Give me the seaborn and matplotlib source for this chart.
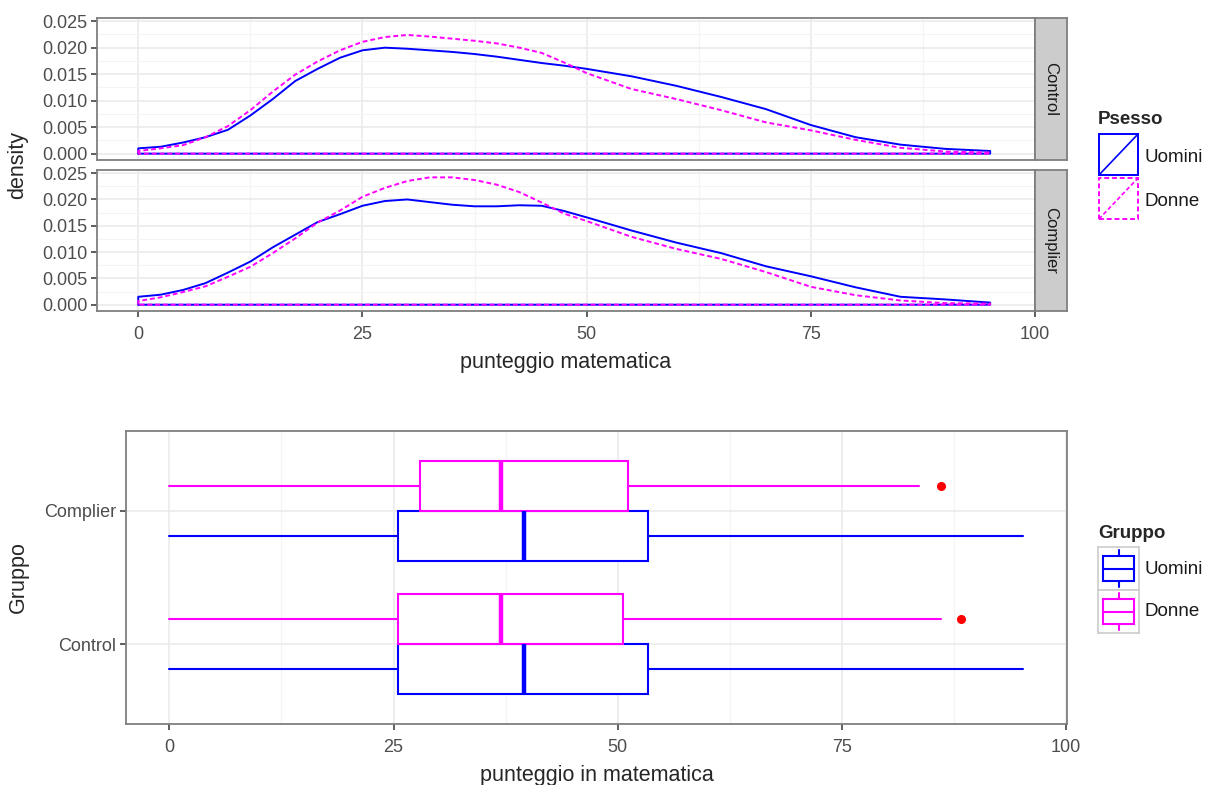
import numpy as np
import pandas as pd
import matplotlib
matplotlib.use("Agg")
import matplotlib.pyplot as plt
import seaborn as sns
from matplotlib.patches import Rectangle
from matplotlib.ticker import MultipleLocator, FormatStrFormatter

# ---------------- data ----------------
gruppi = ["Control", "Complier"]
sessi = ["Uomini", "Donne"]
colori = {"Uomini": "#0000FF", "Donne": "#FF00FF"}

x_dens = [0, 2.5, 5, 7.5, 10, 12.5, 15, 17.5, 20, 22.5, 25, 27.5, 30, 32.5, 35,
          37.5, 40, 42.5, 45, 47.5, 50, 55, 60, 65, 70, 75, 80, 85, 90, 95]

control_uomini = [0.0010, 0.0013, 0.0021, 0.0031, 0.0045, 0.0072, 0.0103, 0.0137, 0.0160,
                  0.0181, 0.0195, 0.0200, 0.0198, 0.0195, 0.0192, 0.0188, 0.0183, 0.0177,
                  0.0171, 0.0166, 0.0160, 0.0146, 0.0128, 0.0107, 0.0084, 0.0054, 0.0031,
                  0.0017, 0.0009, 0.0005]
control_donne = [0.0005, 0.0010, 0.0016, 0.0031, 0.0052, 0.0082, 0.0117, 0.0149, 0.0174,
                 0.0195, 0.0211, 0.0220, 0.0224, 0.0221, 0.0217, 0.0213, 0.0208, 0.0200,
                 0.0190, 0.0172, 0.0152, 0.0122, 0.0103, 0.0082, 0.0059, 0.0044, 0.0026,
                 0.0011, 0.0004, 0.0002]
complier_uomini = [0.0015, 0.0019, 0.0028, 0.0041, 0.0061, 0.0082, 0.0109, 0.0133, 0.0157,
                   0.0172, 0.0188, 0.0197, 0.0200, 0.0195, 0.0190, 0.0187, 0.0187, 0.0189,
                   0.0188, 0.0178, 0.0166, 0.0141, 0.0118, 0.0098, 0.0073, 0.0054, 0.0033,
                   0.0015, 0.0010, 0.0004]
complier_donne = [0.0007, 0.0014, 0.0024, 0.0035, 0.0053, 0.0072, 0.0098, 0.0126, 0.0156,
                  0.0179, 0.0205, 0.0222, 0.0235, 0.0242, 0.0242, 0.0237, 0.0228, 0.0214,
                  0.0194, 0.0173, 0.0159, 0.0129, 0.0106, 0.0087, 0.0062, 0.0034, 0.0018,
                  0.0008, 0.0003, 0.0002]
dens = {("Control", "Uomini"): control_uomini, ("Control", "Donne"): control_donne,
        ("Complier", "Uomini"): complier_uomini, ("Complier", "Donne"): complier_donne}

# boxplot statistics (punteggio in matematica)
box_gruppo = ["Control", "Control", "Complier", "Complier"]
box_sesso = ["Uomini", "Donne", "Uomini", "Donne"]
box_whislo = [0, 0, 0, 0]
box_q1 = [25.5, 25.5, 25.5, 27.9]
box_med = [39.5, 37.0, 39.5, 37.0]
box_q3 = [53.4, 50.6, 53.4, 51.2]
box_whishi = [95.2, 86.0, 95.2, 83.6]
box_outliers = [[], [88.25], [], [86.05]]

# ---------------- figure ----------------
W, H = 1207, 785
sns.set_theme(style="white")
plt.rcParams["font.family"] = ["Liberation Sans", "DejaVu Sans"]
fig = plt.figure(figsize=(W / 100, H / 100), dpi=100)

TICK_FS = 13
TITLE_FS = 15.5
LEG_FS = 13.5


def fbox(x0, y0, x1, y1):
    return [x0 / W, 1 - y1 / H, (x1 - x0) / W, (y1 - y0) / H]


BORDER = "#7F7F7F"
GRID_MAJ = "#EBEBEB"
GRID_MIN = "#F4F4F4"
TICKC = "#4D4D4D"


def style_axes(ax):
    for s in ax.spines.values():
        s.set_color(BORDER)
        s.set_linewidth(1.3)
    ax.tick_params(axis="both", which="major", length=4, width=1.1, color="#333333",
                   labelsize=TICK_FS, labelcolor=TICKC, pad=3, bottom=True, left=True)
    ax.tick_params(axis="x", which="major", pad=7)
    ax.tick_params(axis="both", which="minor", length=0)
    ax.grid(True, which="major", color=GRID_MAJ, linewidth=1.2)
    ax.grid(True, which="minor", color=GRID_MIN, linewidth=0.8)
    ax.set_axisbelow(True)


# --- top: density facets ---
panels = [("Control", fbox(97, 18, 1035, 160), fbox(1035, 18, 1067, 160)),
          ("Complier", fbox(97, 170, 1035, 311), fbox(1035, 170, 1067, 311))]
axes_top = []
for gr, pbox, sbox in panels:
    ax = fig.add_axes(pbox)
    axes_top.append(ax)
    style_axes(ax)
    for ses in sessi:
        d = dens[(gr, ses)]
        xs = [x_dens[0]] + list(x_dens) + [x_dens[-1], x_dens[0]]
        ys = [0.0] + list(d) + [0.0, 0.0]
        df = pd.DataFrame({"x": xs, "y": ys})
        sns.lineplot(data=df, x="x", y="y", ax=ax, sort=False, estimator=None,
                     color=colori[ses], linewidth=1.4,
                     linestyle="-" if ses == "Uomini" else (0, (2.5, 1.5)))
    ax.set_xlim(-4.6, 100)
    ax.set_ylim(-0.0012, 0.0256)
    ax.xaxis.set_major_locator(MultipleLocator(25))
    ax.xaxis.set_minor_locator(MultipleLocator(12.5))
    ax.yaxis.set_major_locator(MultipleLocator(0.005))
    ax.yaxis.set_minor_locator(MultipleLocator(0.0025))
    ax.yaxis.set_major_formatter(FormatStrFormatter("%.3f"))
    ax.set_xlabel("")
    ax.set_ylabel("")
    # strip
    sax = fig.add_axes(sbox)
    sax.set_facecolor("#CCCCCC")
    sax.set_xticks([])
    sax.set_yticks([])
    for s in sax.spines.values():
        s.set_color(BORDER)
        s.set_linewidth(1.3)
    sax.text(0.5, 0.5, gr, rotation=-90, ha="center", va="center", fontsize=12,
             color="#1A1A1A", transform=sax.transAxes)

axes_top[0].tick_params(axis="x", which="major", labelbottom=False, length=0)
axes_top[1].set_xlabel("punteggio matematica", fontsize=TITLE_FS, labelpad=6)
fig.text(18 / W, 1 - 165 / H, "density", rotation=90, ha="center", va="center", fontsize=TITLE_FS)

# legend Psesso
fig.text(1098 / W, 1 - 119 / H, "Psesso", fontsize=LEG_FS, fontweight="bold", ha="left", va="center")
for i, ses in enumerate(sessi):
    y0 = 133 + i * 44
    kax = fig.add_axes(fbox(1098, y0, 1139, y0 + 43))
    kax.set_xlim(0, 1)
    kax.set_ylim(0, 1)
    kax.axis("off")
    ls = "-" if ses == "Uomini" else (0, (2.5, 1.5))
    kax.add_patch(Rectangle((0.02, 0.02), 0.96, 0.96, fill=False, edgecolor=colori[ses],
                            linewidth=1.4, linestyle=ls))
    kax.plot([0.02, 0.98], [0.02, 0.98], color=colori[ses], linewidth=1.2, linestyle=ls)
    fig.text(1144 / W, 1 - (y0 + 24) / H, ses, fontsize=LEG_FS, ha="left", va="center", color="#1A1A1A")

# --- bottom: boxplot ---
bax = fig.add_axes(fbox(126, 431, 1067, 724))
style_axes(bax)
for i in range(len(box_gruppo)):
    st = dict(med=box_med[i], q1=box_q1[i], q3=box_q3[i], whislo=box_whislo[i],
              whishi=box_whishi[i], fliers=box_outliers[i])
    base = gruppi.index(box_gruppo[i]) + 1
    pos = base + (-0.1875 if box_sesso[i] == "Uomini" else 0.1875)
    c = colori[box_sesso[i]]
    bax.bxp([st], positions=[pos], widths=[0.375], vert=False, showcaps=False,
            patch_artist=True,
            boxprops=dict(facecolor="white", edgecolor=c, linewidth=1.5),
            whiskerprops=dict(color=c, linewidth=1.5),
            medianprops=dict(color=c, linewidth=3.2),
            flierprops=dict(marker="o", markerfacecolor="red", markeredgecolor="red",
                            markersize=5.5))
bax.set_ylim(0.4, 2.6)
bax.set_xlim(-4.83, 100.1)
bax.set_yticks([1, 2])
bax.set_yticklabels(gruppi)
bax.xaxis.set_major_locator(MultipleLocator(25))
bax.xaxis.set_minor_locator(MultipleLocator(12.5))
bax.xaxis.set_major_formatter(FormatStrFormatter("%d"))
bax.set_xlabel("punteggio in matematica", fontsize=TITLE_FS, labelpad=6)
bax.set_ylabel("")
fig.text(18 / W, 1 - 577 / H, "Gruppo", rotation=90, ha="center", va="center", fontsize=TITLE_FS)

# legend Gruppo
fig.text(1098 / W, 1 - 533 / H, "Gruppo", fontsize=LEG_FS, fontweight="bold", ha="left", va="center")
for i, ses in enumerate(sessi):
    y0 = 547 + i * 43
    kax = fig.add_axes(fbox(1098, y0, 1139, y0 + 43))
    kax.set_xlim(0, 1)
    kax.set_ylim(0, 1)
    kax.set_xticks([])
    kax.set_yticks([])
    for s in kax.spines.values():
        s.set_color("#CCCCCC")
        s.set_linewidth(1.2)
    c = colori[ses]
    kax.add_patch(Rectangle((0.12, 0.22), 0.76, 0.56, fill=False, edgecolor=c, linewidth=1.5))
    kax.plot([0.12, 0.88], [0.5, 0.5], color=c, linewidth=1.5)
    kax.plot([0.5, 0.5], [0.78, 0.92], color=c, linewidth=1.5)
    kax.plot([0.5, 0.5], [0.08, 0.22], color=c, linewidth=1.5)
    fig.text(1144 / W, 1 - (y0 + 22) / H, ses, fontsize=LEG_FS, ha="left", va="center", color="#1A1A1A")

fig.savefig("out.png", dpi=100)
